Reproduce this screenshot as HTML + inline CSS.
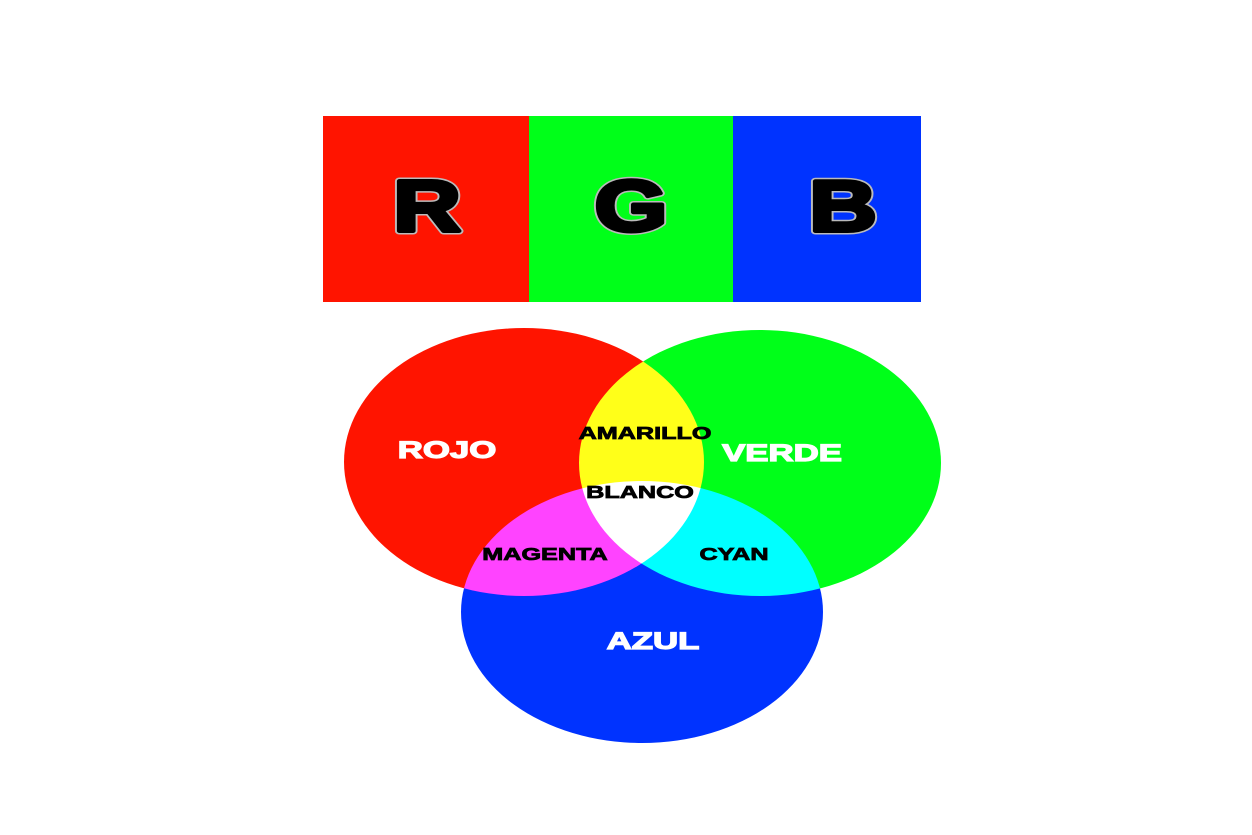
<!DOCTYPE html>
<html><head><meta charset="utf-8"><style>
html,body{margin:0;padding:0;background:#fff;width:1252px;height:835px;overflow:hidden}
text{font-family:"Liberation Sans",Arial,sans-serif;font-weight:bold}
</style></head><body>
<svg width="1252" height="835" viewBox="0 0 1252 835" xmlns="http://www.w3.org/2000/svg">
<rect x="323" y="116" width="206" height="186" fill="#ff1400"/>
<rect x="529" y="116" width="204" height="186" fill="#00ff19"/>
<rect x="733" y="116" width="188" height="186" fill="#0033ff"/>
<g font-size="72" fill="#000" stroke="#bbb" stroke-width="7" stroke-linejoin="round" style="paint-order:stroke">
<text transform="translate(427,231) scale(1.3,1)" text-anchor="middle">R</text>
<text transform="translate(631,231) scale(1.3,1)" text-anchor="middle">G</text>
<text transform="translate(843,231) scale(1.3,1)" text-anchor="middle">B</text>
</g>
<g font-size="72" fill="#000" stroke="#000" stroke-width="4" stroke-linejoin="round">
<text transform="translate(427,231) scale(1.3,1)" text-anchor="middle">R</text>
<text transform="translate(631,231) scale(1.3,1)" text-anchor="middle">G</text>
<text transform="translate(843,231) scale(1.3,1)" text-anchor="middle">B</text>
</g>
<g style="isolation:isolate">
<ellipse cx="524" cy="462" rx="180" ry="134" fill="#ff1400" style="mix-blend-mode:screen"/>
<ellipse cx="760" cy="463" rx="181" ry="133" fill="#00ff19" style="mix-blend-mode:screen"/>
<ellipse cx="642" cy="612" rx="181" ry="131" fill="#0033ff" style="mix-blend-mode:screen"/>
</g>
<g font-size="24" fill="#fff" stroke="#fff" stroke-width="1.2" text-anchor="middle">
<text transform="translate(447,458) scale(1.45,1)">ROJO</text>
<text transform="translate(782,461) scale(1.45,1)">VERDE</text>
<text transform="translate(653,649) scale(1.45,1)">AZUL</text>
</g>
<g font-size="18" fill="#000" stroke="#000" stroke-width="0.8" text-anchor="middle">
<text transform="translate(645,439) scale(1.4,1)">AMARILLO</text>
<text transform="translate(640,498) scale(1.4,1)">BLANCO</text>
<text transform="translate(545,560) scale(1.4,1)">MAGENTA</text>
<text transform="translate(734,560) scale(1.4,1)">CYAN</text>
</g>
</svg>
</body></html>
